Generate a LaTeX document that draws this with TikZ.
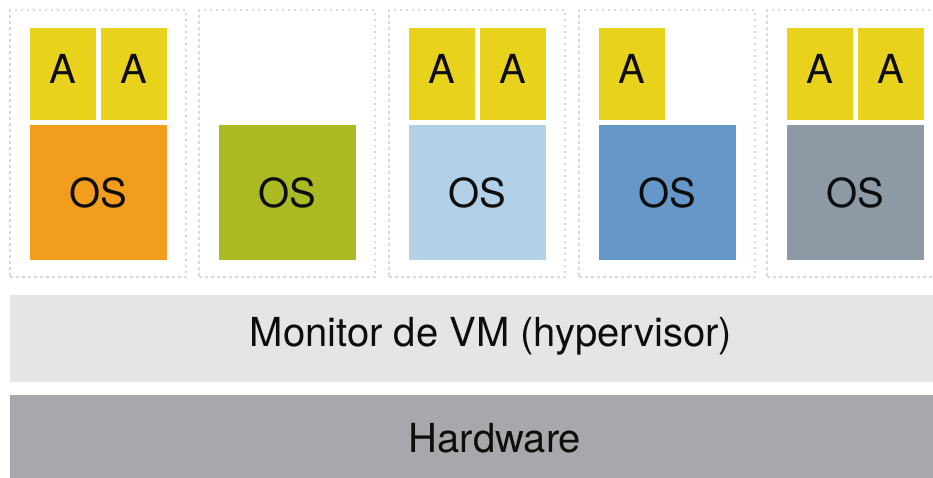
\documentclass[tikz,border=0pt]{standalone}
\usepackage{fontspec}
\setmainfont{TeX Gyre Heros}
\usepackage{tikz}
\usepackage{xcolor}

\definecolor{appyellow}{HTML}{E8D21C}
\definecolor{osorange}{HTML}{F39D1C}
\definecolor{osgreen}{HTML}{ABBA22}
\definecolor{oslight}{HTML}{B3D0E9}
\definecolor{osblue}{HTML}{6598C8}
\definecolor{osgray}{HTML}{8D99A5}
\definecolor{monfill}{HTML}{E5E5E5}
\definecolor{hwfill}{HTML}{A6A8AB}
\definecolor{vmborder}{HTML}{D9D9D9}

\begin{document}
\begin{tikzpicture}[
  x=1pt, y=-1pt,
  vm/.style={draw=vmborder, line width=1.6pt, dash pattern=on 2.5pt off 3.5pt, minimum width=176pt, minimum height=267pt, inner sep=0pt},
  app/.style={fill=appyellow, minimum width=66pt, minimum height=92pt, inner sep=0pt, text height=29pt, text depth=10pt},
  os/.style={minimum width=137pt, minimum height=135pt, inner sep=0pt, text height=29pt, text depth=0pt},
  layer/.style={inner sep=0pt, text height=29pt},
  every node/.style={font=\fontsize{40}{48}\selectfont, text=black!95}
]
  \useasboundingbox (0,0) rectangle (933,477);

  \node[vm] (vm1) at (98,143.5) {};
  \node[vm] (vm2) at (287,143.5) {};
  \node[vm] (vm3) at (477,143.5) {};
  \node[vm] (vm4) at (667,143.5) {};
  \node[vm] (vm5) at (855,143.5) {};

  \node[os, fill=osorange] (os1) at (98.5,192.5) {OS};
  \node[app] (app1a) at (63,74) {A};
  \node[app] (app1b) at (134,74) {A};

  \node[os, fill=osgreen] (os2) at (287.5,192.5) {OS};

  \node[os, fill=oslight] (os3) at (477.5,192.5) {OS};
  \node[app] (app3a) at (442,74) {A};
  \node[app] (app3b) at (513,74) {A};

  \node[os, fill=osblue] (os4) at (667.5,192.5) {OS};
  \node[app] (app4a) at (632,74) {A};

  \node[os, fill=osgray] (os5) at (855.5,192.5) {OS};
  \node[app] (app5a) at (820,74) {A};
  \node[app] (app5b) at (891,74) {A};

  \node[layer, fill=monfill, minimum width=962pt, minimum height=87pt, text depth=14pt] (monitor) at (491,338.5) {Monitor de VM (hypervisor)};
  \node[layer, fill=hwfill, minimum width=970pt, minimum height=85pt, text depth=0pt] (hw) at (495,437.5) {Hardware};
\end{tikzpicture}
\end{document}
